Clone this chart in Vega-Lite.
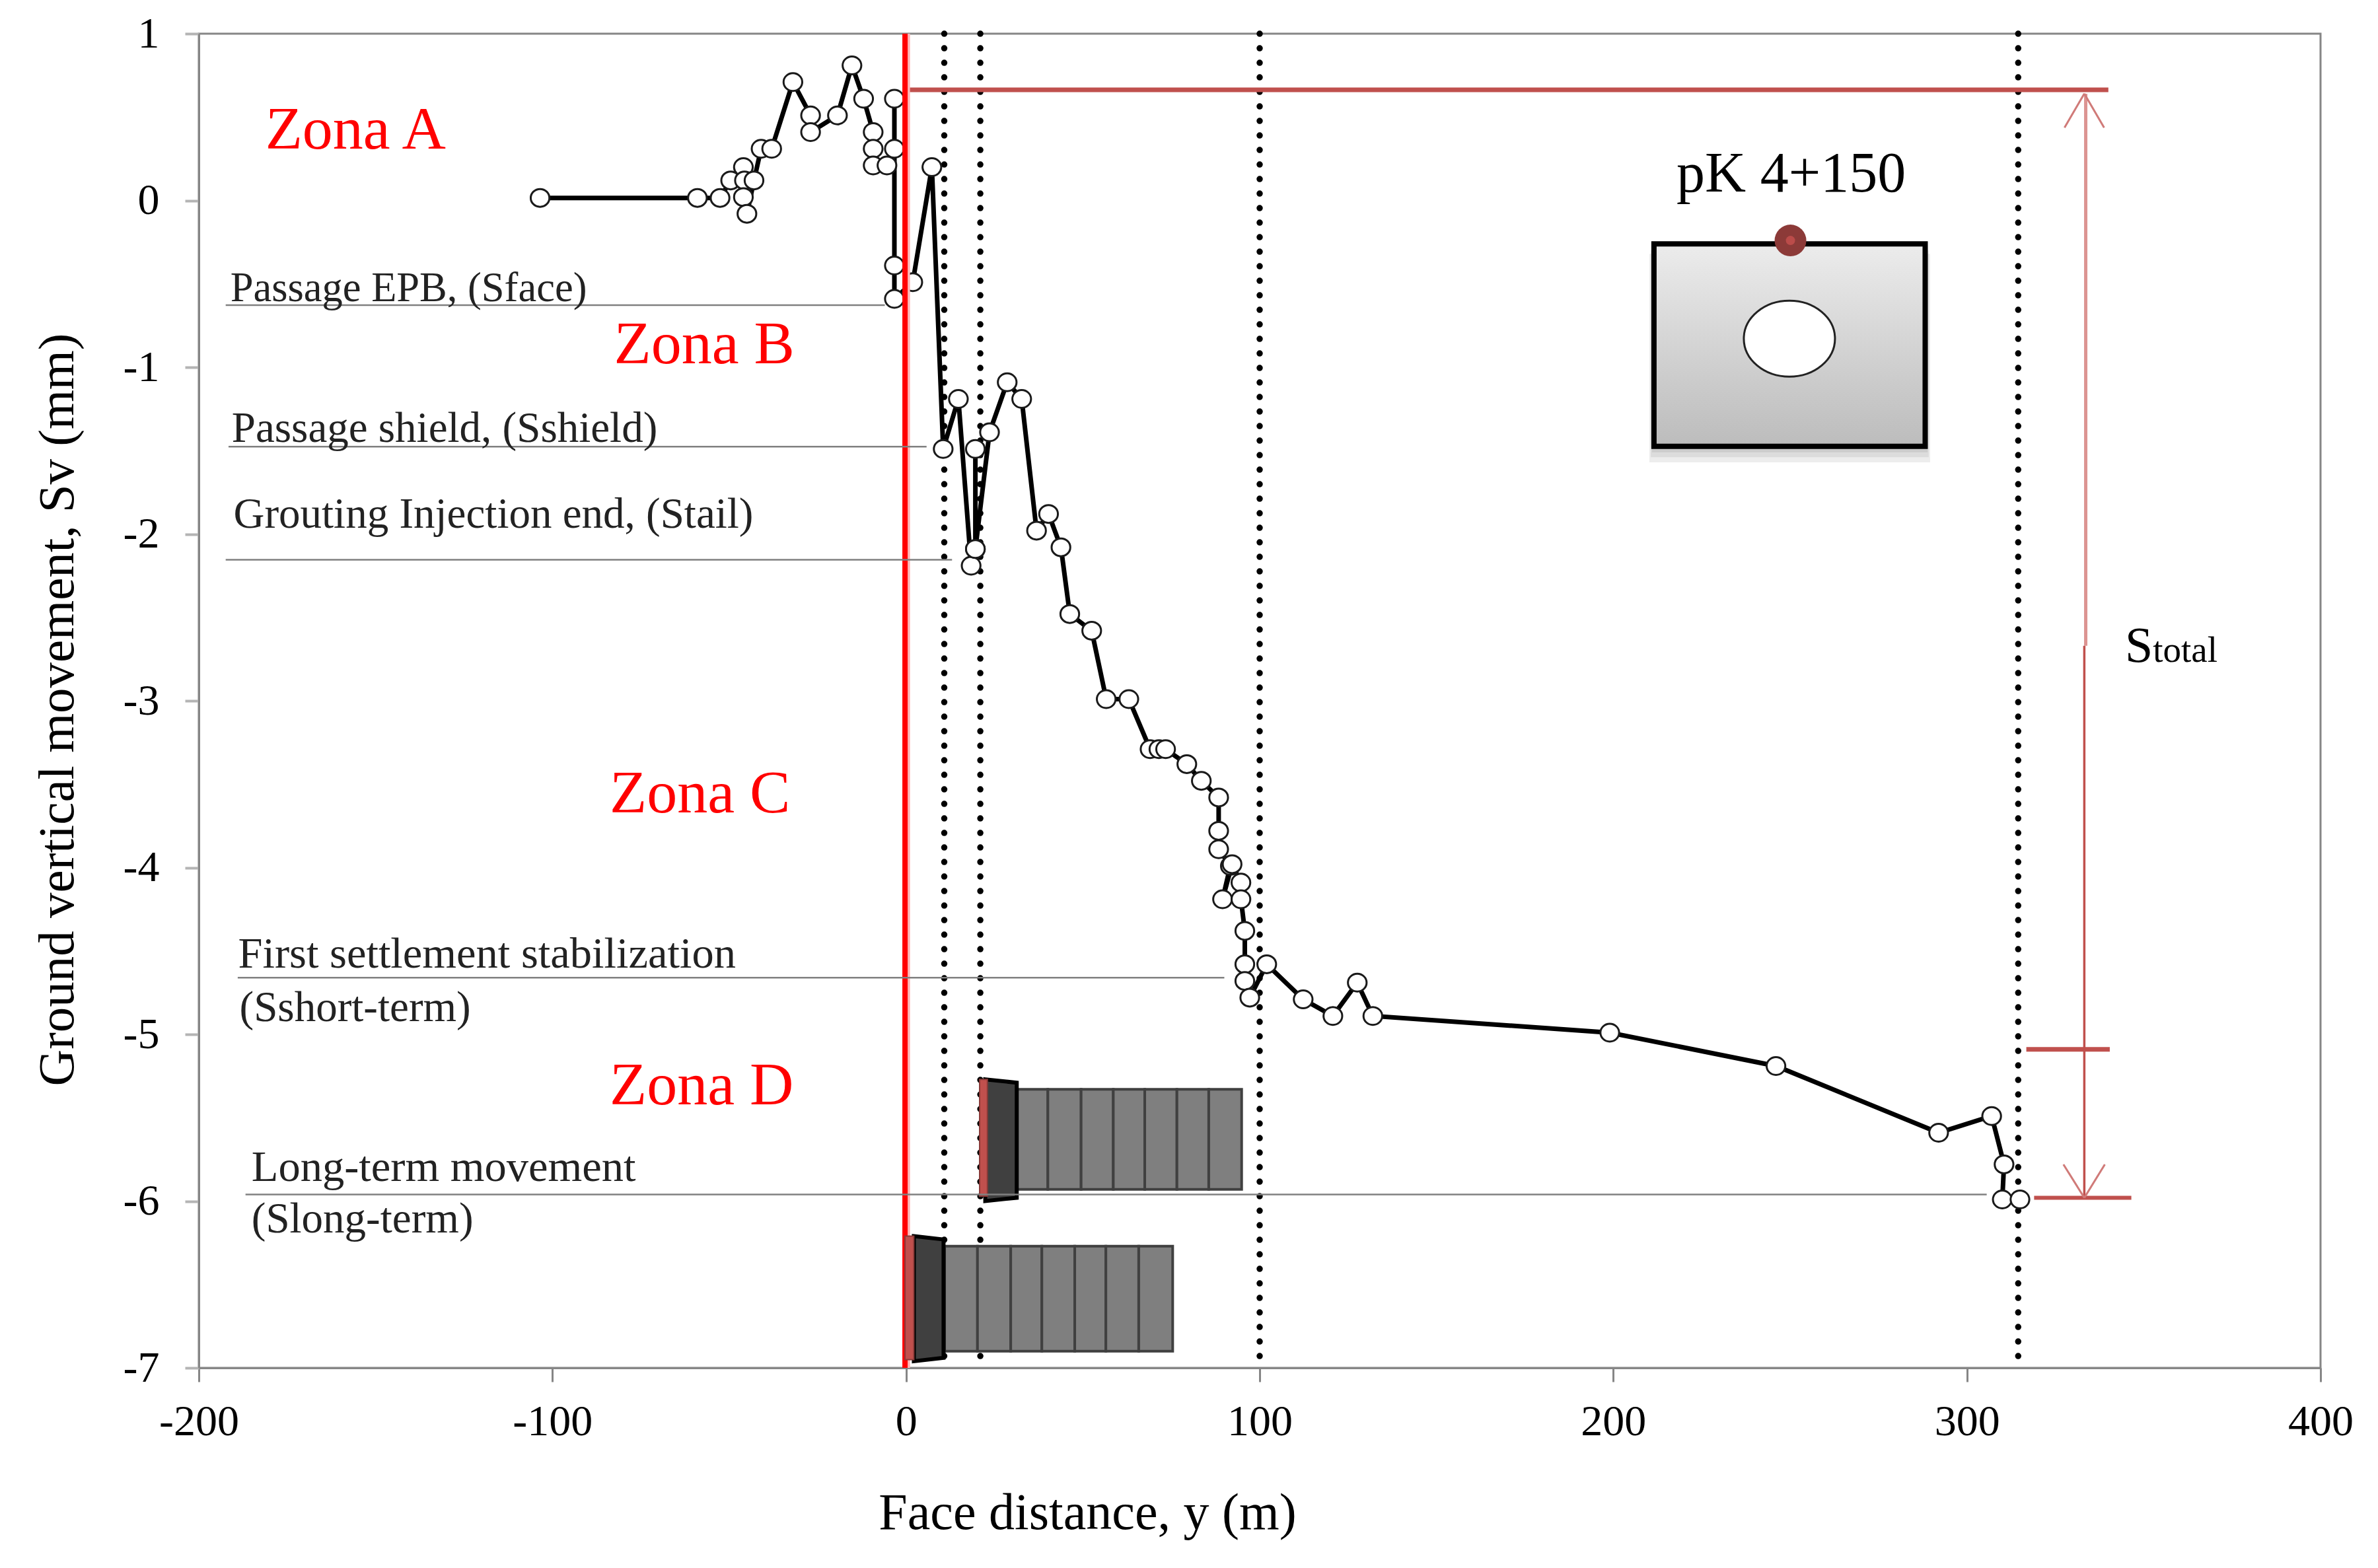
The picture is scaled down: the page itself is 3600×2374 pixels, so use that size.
{"$schema":"https://vega.github.io/schema/vega-lite/v6.json","autosize":{"type":"none"},"padding":{"left":301,"top":51,"right":87,"bottom":303},"width":3212,"height":2020,"background":"white","view":{"stroke":"#868686","strokeWidth":3},
"config":{"font":"Liberation Serif"},
"datasets":{
"series":[{"i":1,"x":-103.5,"y":0.015},{"i":2,"x":-59,"y":0.015},{"i":3,"x":-52.6,"y":0.015},{"i":4,"x":-49.6,"y":0.12},{"i":5,"x":-46,"y":0.2},{"i":6,"x":-45.7,"y":0.12},{"i":7,"x":-46,"y":0.02},{"i":8,"x":-45,"y":-0.08},{"i":9,"x":-43,"y":0.12},{"i":10,"x":-41,"y":0.31},{"i":11,"x":-38,"y":0.31},{"i":12,"x":-32,"y":0.71},{"i":13,"x":-27,"y":0.51},{"i":14,"x":-27,"y":0.41},{"i":15,"x":-19.4,"y":0.51},{"i":16,"x":-15.3,"y":0.81},{"i":17,"x":-12,"y":0.61},{"i":18,"x":-9.3,"y":0.41},{"i":19,"x":-9.3,"y":0.31},{"i":20,"x":-9.3,"y":0.21},{"i":21,"x":-5.4,"y":0.21},{"i":22,"x":-3.3,"y":0.31},{"i":23,"x":-3.3,"y":0.61},{"i":24,"x":-3.3,"y":-0.39},{"i":25,"x":-3.3,"y":-0.59},{"i":26,"x":1.9,"y":-0.49},{"i":27,"x":7.3,"y":0.2},{"i":28,"x":10.5,"y":-1.49},{"i":29,"x":14.8,"y":-1.19},{"i":30,"x":18.4,"y":-2.19},{"i":31,"x":19.6,"y":-2.09},{"i":32,"x":19.6,"y":-1.49},{"i":33,"x":19.6,"y":-2.09},{"i":34,"x":23.6,"y":-1.39},{"i":35,"x":28.6,"y":-1.09},{"i":36,"x":32.7,"y":-1.19},{"i":37,"x":36.9,"y":-1.98},{"i":38,"x":40.3,"y":-1.88},{"i":39,"x":43.8,"y":-2.08},{"i":40,"x":46.3,"y":-2.48},{"i":41,"x":52.5,"y":-2.58},{"i":42,"x":56.6,"y":-2.99},{"i":43,"x":63,"y":-2.99},{"i":44,"x":69,"y":-3.29},{"i":45,"x":71.5,"y":-3.29},{"i":46,"x":73.4,"y":-3.29},{"i":47,"x":79.4,"y":-3.38},{"i":48,"x":83.5,"y":-3.48},{"i":49,"x":88.4,"y":-3.58},{"i":50,"x":88.4,"y":-3.78},{"i":51,"x":88.4,"y":-3.89},{"i":52,"x":91.7,"y":-3.99},{"i":53,"x":89.5,"y":-4.19},{"i":54,"x":92.2,"y":-3.98},{"i":55,"x":94.7,"y":-4.09},{"i":56,"x":94.7,"y":-4.19},{"i":57,"x":95.8,"y":-4.38},{"i":58,"x":95.8,"y":-4.58},{"i":59,"x":95.8,"y":-4.68},{"i":60,"x":97.2,"y":-4.78},{"i":61,"x":102,"y":-4.58},{"i":62,"x":112.3,"y":-4.79},{"i":63,"x":120.7,"y":-4.89},{"i":64,"x":127.6,"y":-4.69},{"i":65,"x":132,"y":-4.89},{"i":66,"x":199,"y":-4.99},{"i":67,"x":246,"y":-5.19},{"i":68,"x":292,"y":-5.59},{"i":69,"x":307,"y":-5.49},{"i":70,"x":310.5,"y":-5.78},{"i":71,"x":310,"y":-5.99},{"i":72,"x":315,"y":-5.99}],
"dotted":[{"x":10.8,"y":1,"y2":-7},{"x":21,"y":1,"y2":-7},{"x":100,"y":1,"y2":-7},{"x":314.5,"y":1,"y2":-7}],
"leaders":[{"x":-192.4,"x2":-6,"y":-0.628,"y2":-0.628},{"x":-191.6,"x2":5.8,"y":-1.476,"y2":-1.476},{"x":-192.4,"x2":13,"y":-2.154,"y2":-2.154},{"x":-189,"x2":90,"y":-4.66,"y2":-4.66},{"x":-186.8,"x2":305.6,"y":-5.96,"y2":-5.96}],
"segments":[{"x":30.8,"x2":40.1,"y":-5.33,"y2":-5.93},{"x":40.1,"x2":49.5,"y":-5.33,"y2":-5.93},{"x":49.5,"x2":58.6,"y":-5.33,"y2":-5.93},{"x":58.6,"x2":67.5,"y":-5.33,"y2":-5.93},{"x":67.5,"x2":76.6,"y":-5.33,"y2":-5.93},{"x":76.6,"x2":85.6,"y":-5.33,"y2":-5.93},{"x":85.6,"x2":94.9,"y":-5.33,"y2":-5.93},{"x":10.9,"x2":20.2,"y":-6.27,"y2":-6.9},{"x":20.2,"x2":29.6,"y":-6.27,"y2":-6.9},{"x":29.6,"x2":38.4,"y":-6.27,"y2":-6.9},{"x":38.4,"x2":47.7,"y":-6.27,"y2":-6.9},{"x":47.7,"x2":56.5,"y":-6.27,"y2":-6.9},{"x":56.5,"x2":65.8,"y":-6.27,"y2":-6.9},{"x":65.8,"x2":75.4,"y":-6.27,"y2":-6.9}],
"shieldUpper":[{"x":22.4,"y":-5.27,"y2":-6.0},{"x":31.3,"y":-5.29,"y2":-5.98}],
"shieldLower":[{"x":2.2,"y":-6.21,"y2":-6.96},{"x":10.6,"y":-6.23,"y2":-6.94}],
"caps":[{"x":20.8,"x2":23,"y":-5.27,"y2":-5.97},{"x":-0.3,"x2":2.2,"y":-6.21,"y2":-6.95}],
"shadow":[{"x":210.2,"x2":289.6,"y":-0.32,"y2":-1.57},{"x":210.6,"x2":289.2,"y":-0.3,"y2":-1.54},{"x":210.9,"x2":288.9,"y":-0.28,"y2":-1.51}],
"box":[{"x":211.5,"x2":288.2,"y":-0.26,"y2":-1.474}],
"hole":[{"x":249.8,"y":-0.829}],
"marker":[{"x":250.1,"y":-0.24}],
"brown":[{"x":0,"x2":340,"y":0.663,"y2":0.663},{"x":316.8,"x2":340.4,"y":-5.09,"y2":-5.09}],
"brownLower":[{"x":319,"x2":346.5,"y":-5.98,"y2":-5.98}],
"arrowUpper":[{"x":333.6,"x2":333.6,"y":0.64,"y2":-2.67}],
"arrowLower":[{"x":333.2,"x2":333.2,"y":-2.67,"y2":-5.98}],
"heads":[{"x":333.2,"x2":327.6,"y":0.641,"y2":0.437},{"x":333.2,"x2":338.8,"y":0.641,"y2":0.437},{"x":333.2,"x2":327.3,"y":-5.98,"y2":-5.78},{"x":333.2,"x2":339,"y":-5.98,"y2":-5.78}],
"zones":[{"x":-181.2,"y":0.42,"label":"Zona A"},{"x":-82.6,"y":-0.865,"label":"Zona B"},{"x":-83.8,"y":-3.56,"label":"Zona C"},{"x":-83.8,"y":-5.31,"label":"Zona D"}],
"notesEpb":[{"x":-191.1,"y":-0.53,"label":"Passage EPB, (Sface)"}],
"notes":[{"x":-190.7,"y":-1.37,"label":"Passage shield, (Sshield)"},{"x":-190.2,"y":-1.885,"label":"Grouting Injection end, (Stail)"},{"x":-188.5,"y":-4.84,"label":"(Sshort-term)"},{"x":-185.1,"y":-6.11,"label":"(Slong-term)"}],
"notesWide":[{"x":-188.9,"y":-4.52,"label":"First settlement stabilization"},{"x":-185.1,"y":-5.8,"label":"Long-term movement"}],
"pk":[{"x":250.3,"y":0.155,"label":"pK 4+150"}],
"sBig":[{"x":344.7,"y":-2.768,"label":"S"}],
"sSmall":[{"x":352.6,"y":-2.768,"label":"total"}]
},
"encoding":{
"x":{"field":"x","type":"quantitative","scale":{"domain":[-200,400],"nice":false,"zero":false},"axis":{"values":[-200,-100,0,100,200,300,400],"grid":false,"domainColor":"#868686","domainWidth":3,"tickColor":"#868686","tickWidth":3,"tickSize":21,"labelFontSize":66,"labelColor":"#000000","labelPadding":28,"labelExpr":"'' + datum.value","labelFont":"Liberation Serif","title":"Face distance, y (m)","titleFont":"Liberation Serif","titleFontSize":78,"titleFontWeight":"normal","titleColor":"#000000","titleX":1345,"titleY":220,"titleAlign":"center","titleBaseline":"middle","labelFlush":false,"labelOverlap":false}},
"y":{"field":"y","type":"quantitative","scale":{"domain":[-7,1],"nice":false,"zero":false},"axis":{"values":[-7,-6,-5,-4,-3,-2,-1,0,1],"grid":false,"domainColor":"#868686","domainWidth":3,"tickColor":"#b4b4b4","tickWidth":4,"tickSize":21,"labelFontSize":66,"labelColor":"#000000","labelPadding":39,"labelExpr":"'' + datum.value","labelFont":"Liberation Serif","title":"Ground vertical movement, Sv (mm)","titleFont":"Liberation Serif","titleFontSize":77,"titleFontWeight":"normal","titleColor":"#000000","titleX":-175,"titleY":1023,"titleAlign":"center","labelFlush":false,"labelOverlap":false}}
},
"layer":[
{"data":{"name":"dotted"},"mark":{"type":"rule","color":"#000000","strokeWidth":9.5,"strokeCap":"round","strokeDash":[0.1,21.9]},"encoding":{"y2":{"field":"y2"}}},
{"data":{"name":"shadow"},"mark":{"type":"rect","color":"#000000","opacity":0.07},"encoding":{"x2":{"field":"x2"},"y2":{"field":"y2"}}},
{"data":{"name":"box"},"mark":{"type":"rect","stroke":"#000000","strokeWidth":8,"color":{"gradient":"linear","x1":0,"y1":0,"x2":0,"y2":1,"stops":[{"offset":0,"color":"#ececec"},{"offset":1,"color":"#bcbcbc"}]}},"encoding":{"x2":{"field":"x2"},"y2":{"field":"y2"}}},
{"data":{"name":"hole"},"mark":{"type":"point","filled":true,"fill":"#ffffff","stroke":"#222222","strokeWidth":3,"opacity":1,"size":19044,"shape":"M-1,0A1,0.833,0,1,0,1,0A1,0.833,0,1,0,-1,0Z"}},
{"data":{"name":"marker"},"mark":{"type":"circle","color":"#8c3a38","opacity":1,"size":2304}},
{"data":{"name":"marker"},"mark":{"type":"circle","color":"#bb4c4a","opacity":1,"size":196}},
{"data":{"name":"brown"},"mark":{"type":"rule","color":"#c0504d","strokeWidth":7},"encoding":{"x2":{"field":"x2"},"y2":{"field":"y2"}}},
{"data":{"name":"brownLower"},"mark":{"type":"rule","color":"#c0504d","strokeWidth":6},"encoding":{"x2":{"field":"x2"},"y2":{"field":"y2"}}},
{"data":{"name":"arrowUpper"},"mark":{"type":"rule","color":"#dc9492","strokeWidth":5},"encoding":{"x2":{"field":"x2"},"y2":{"field":"y2"}}},
{"data":{"name":"arrowLower"},"mark":{"type":"rule","color":"#c0504d","strokeWidth":3.5},"encoding":{"x2":{"field":"x2"},"y2":{"field":"y2"}}},
{"data":{"name":"heads"},"mark":{"type":"rule","color":"#d07a78","strokeWidth":3},"encoding":{"x2":{"field":"x2"},"y2":{"field":"y2"}}},
{"data":{"name":"series"},"mark":{"type":"line","color":"#000000","strokeWidth":7,"strokeJoin":"miter"},"encoding":{"order":{"field":"i"}}},
{"data":{"name":"series"},"mark":{"type":"point","filled":true,"fill":"#ffffff","stroke":"#1a1a1a","strokeWidth":3,"opacity":1,"size":800,"shape":"M-1,0A1,0.95,0,1,0,1,0A1,0.95,0,1,0,-1,0Z"}},
{"data":{"name":"segments"},"mark":{"type":"rect","color":"#7f7f7f","stroke":"#404040","strokeWidth":4},"encoding":{"x2":{"field":"x2"},"y2":{"field":"y2"}}},
{"data":{"name":"shieldUpper"},"mark":{"type":"area","color":"#404040","stroke":"#000000","strokeWidth":6},"encoding":{"y2":{"field":"y2"}}},
{"data":{"name":"shieldLower"},"mark":{"type":"area","color":"#404040","stroke":"#000000","strokeWidth":6},"encoding":{"y2":{"field":"y2"}}},
{"data":{"values":[{"x":0.75,"y":1,"y2":-7}]},"mark":{"type":"rule","color":"#ffb4b4","strokeWidth":4},"encoding":{"y2":{"field":"y2"}}},
{"data":{"values":[{"x":-0.3,"y":1,"y2":-7}]},"mark":{"type":"rule","color":"#ff0000","strokeWidth":8},"encoding":{"y2":{"field":"y2"}}},
{"data":{"name":"caps"},"mark":{"type":"rect","color":"#c0504d","stroke":"#8a3a38","strokeWidth":2},"encoding":{"x2":{"field":"x2"},"y2":{"field":"y2"}}},
{"data":{"name":"leaders"},"mark":{"type":"rule","color":"#808080","strokeWidth":2.5},"encoding":{"x2":{"field":"x2"},"y2":{"field":"y2"}}},
{"data":{"name":"zones"},"mark":{"type":"text","align":"left","baseline":"middle","fontSize":92,"color":"#ff0000"},"encoding":{"text":{"field":"label"}}},
{"data":{"name":"notesEpb"},"mark":{"type":"text","align":"left","baseline":"middle","fontSize":62.5,"color":"#222222"},"encoding":{"text":{"field":"label"}}},
{"data":{"name":"notes"},"mark":{"type":"text","align":"left","baseline":"middle","fontSize":65,"color":"#222222"},"encoding":{"text":{"field":"label"}}},
{"data":{"name":"notesWide"},"mark":{"type":"text","align":"left","baseline":"middle","fontSize":66.5,"color":"#222222"},"encoding":{"text":{"field":"label"}}},
{"data":{"name":"pk"},"mark":{"type":"text","align":"center","baseline":"middle","fontSize":86,"color":"#000000"},"encoding":{"text":{"field":"label"}}},
{"data":{"name":"sBig"},"mark":{"type":"text","align":"left","baseline":"alphabetic","fontSize":76,"color":"#000000"},"encoding":{"text":{"field":"label"}}},
{"data":{"name":"sSmall"},"mark":{"type":"text","align":"left","baseline":"alphabetic","fontSize":55,"color":"#000000"},"encoding":{"text":{"field":"label"}}}
]}
